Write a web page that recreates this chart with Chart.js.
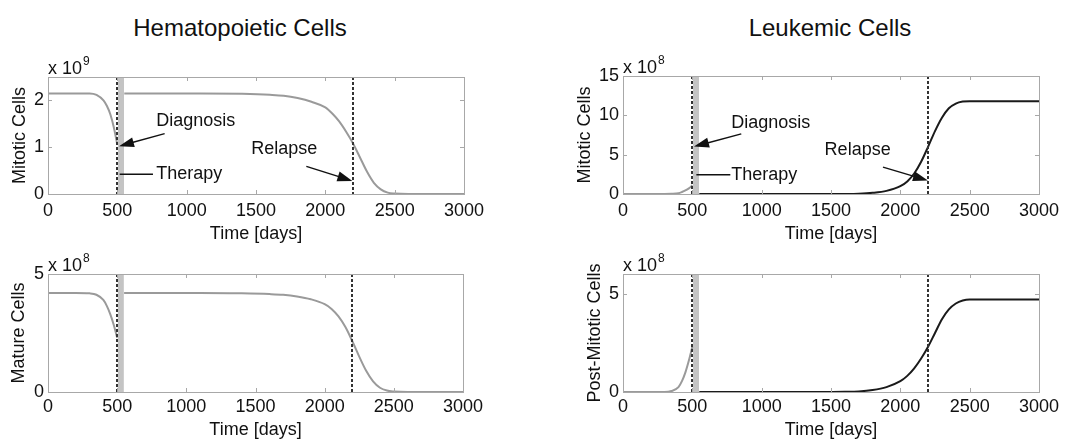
<!DOCTYPE html>
<html>
<head>
<meta charset="utf-8">
<script src="https://cdn.jsdelivr.net/npm/chart.js@4.4.0/dist/chart.umd.min.js"></script>
<style>
body { margin: 0; background: #fff; width: 1083px; height: 444px; position: relative; overflow: hidden; font-family: "Liberation Sans", Arial, Helvetica, sans-serif; }
.title { position: absolute; font-size: 24px; line-height: 24px; color: #111; white-space: nowrap; transform: translateX(-50%); }
canvas { position: absolute; }
</style>
</head>
<body>
<div class="title" style="left:240px; top:16px">Hematopoietic Cells</div>
<div class="title" style="left:830px; top:16px">Leukemic Cells</div>
<canvas id="hemMitotic" width="540" height="200" style="left:0; top:50px"></canvas>
<canvas id="leukMitotic" width="540" height="200" style="left:540px; top:50px"></canvas>
<canvas id="hemMature" width="540" height="194" style="left:0; top:250px"></canvas>
<canvas id="leukPost" width="540" height="194" style="left:540px; top:250px"></canvas>
<script>
// time points (days): before diagnosis, and after therapy
const daysBefore = [0, 100, 200, 300, 350, 400, 425, 450, 475, 500];
const daysAfter = [550, 800, 1100, 1400, 1600, 1700, 1800, 1900, 2000, 2050, 2100, 2150, 2200, 2250, 2300, 2350, 2400, 2450, 2500, 2600, 2800, 3000];
const xTicks = [0, 500, 1000, 1500, 2000, 2500, 3000];

// hematopoietic mitotic cells, x 10^9
const hemMitoticBefore = [2.15, 2.15, 2.15, 2.15, 2.12, 2.0, 1.88, 1.7, 1.42, 1.05];
const hemMitoticAfter = [2.15, 2.15, 2.15, 2.14, 2.12, 2.1, 2.05, 1.97, 1.85, 1.72, 1.55, 1.33, 1.08, 0.78, 0.48, 0.24, 0.1, 0.03, 0.01, 0, 0, 0];
// leukemic mitotic cells, x 10^8
const leukMitoticBefore = [0, 0, 0, 0, 0.02, 0.1, 0.25, 0.45, 0.72, 1.1];
const leukMitoticAfter = [0, 0, 0, 0, 0.01, 0.04, 0.15, 0.4, 1.0, 1.6, 2.6, 4.1, 6.0, 8.0, 9.7, 10.9, 11.5, 11.75, 11.8, 11.8, 11.8, 11.8];
// hematopoietic mature cells, x 10^8
const hemMatureBefore = [4.2, 4.2, 4.2, 4.18, 4.12, 3.9, 3.65, 3.3, 2.85, 2.3];
const hemMatureAfter = [4.2, 4.2, 4.2, 4.18, 4.15, 4.12, 4.05, 3.93, 3.72, 3.52, 3.2, 2.75, 2.15, 1.5, 0.9, 0.45, 0.18, 0.06, 0.02, 0, 0, 0];
// leukemic post-mitotic cells, x 10^8
const leukPostBefore = [0, 0, 0, 0, 0.05, 0.25, 0.55, 1.0, 1.6, 2.3];
const leukPostAfter = [0, 0, 0, 0, 0.01, 0.03, 0.1, 0.25, 0.55, 0.82, 1.2, 1.7, 2.3, 3.0, 3.7, 4.2, 4.5, 4.65, 4.7, 4.7, 4.7, 4.7];

const yTicksHemMitotic = [0, 1, 2];
const yTicksLeukMitotic = [0, 5, 10, 15];
const yTicksHemMature = [0, 5];
const yTicksLeukPost = [0, 5];

const diagnosisDay = 500;
const relapseDay = 2200;
const therapyDays = [505, 548];

const FONT = '"Liberation Sans", Arial, Helvetica, sans-serif';
const GRAY = '#9a9a9a';
const DARK = '#1a1a1a';

function pts(days, vals) {
    return days.map((d, i) => ({ x: d, y: vals[i] }));
}

function arrow(ctx, x1, y1, x2, y2) {
    const a = Math.atan2(y2 - y1, x2 - x1);
    const c = Math.cos(a), s = Math.sin(a);
    ctx.beginPath();
    ctx.moveTo(x1, y1);
    ctx.lineTo(x2 - 10 * c, y2 - 10 * s);
    ctx.stroke();
    ctx.beginPath();
    ctx.moveTo(x2, y2);
    ctx.lineTo(x2 - 15 * c + 5 * s, y2 - 15 * s - 5 * c);
    ctx.lineTo(x2 - 15 * c - 5 * s, y2 - 15 * s + 5 * c);
    ctx.closePath();
    ctx.fill();
}

// matlab-like frame, inner ticks, event lines, exponent and notes
const matlabAxes = {
    id: 'matlabAxes',
    beforeDatasetsDraw(chart) {
        const { ctx, chartArea: a, scales: { x } } = chart;
        const x1 = x.getPixelForValue(therapyDays[0]);
        const x2 = x.getPixelForValue(therapyDays[1]);
        ctx.save();
        ctx.fillStyle = '#c4c4c4';
        ctx.fillRect(x1, a.top, x2 - x1, a.bottom - a.top);
        ctx.restore();
    },
    afterDatasetsDraw(chart, args, opts) {
        const { ctx, chartArea: a, scales: { x, y } } = chart;
        ctx.save();

        // dashed event lines
        ctx.strokeStyle = '#333';
        ctx.lineWidth = 2;
        ctx.setLineDash([3, 2]);
        [diagnosisDay, relapseDay].forEach(d => {
            const px = Math.round(x.getPixelForValue(d));
            ctx.beginPath();
            ctx.moveTo(px, a.top);
            ctx.lineTo(px, a.bottom);
            ctx.stroke();
        });
        ctx.setLineDash([]);

        // frame
        ctx.strokeStyle = '#a8a8a8';
        ctx.lineWidth = 1;
        ctx.strokeRect(Math.round(a.left) + 0.5, Math.round(a.top) + 0.5, Math.round(a.right - a.left), Math.round(a.bottom - a.top));

        // inner ticks
        ctx.beginPath();
        x.ticks.forEach(t => {
            const px = Math.round(x.getPixelForValue(t.value)) + 0.5;
            ctx.moveTo(px, a.bottom); ctx.lineTo(px, a.bottom - 4);
            ctx.moveTo(px, a.top); ctx.lineTo(px, a.top + 4);
        });
        y.ticks.forEach(t => {
            const py = Math.round(y.getPixelForValue(t.value)) + 0.5;
            ctx.moveTo(a.left, py); ctx.lineTo(a.left + 4, py);
            ctx.moveTo(a.right, py); ctx.lineTo(a.right - 4, py);
        });
        ctx.stroke();

        // exponent label
        ctx.fillStyle = '#111';
        ctx.textAlign = 'left';
        ctx.textBaseline = 'alphabetic';
        ctx.font = '18px ' + FONT;
        const base = 'x 10';
        ctx.fillText(base, a.left, a.top - 3);
        const w = ctx.measureText(base).width;
        ctx.font = '12px ' + FONT;
        ctx.fillText(opts.expo, a.left + w + 1, a.top - 12);

        // annotations
        ctx.font = '18px ' + FONT;
        ctx.textBaseline = 'middle';
        ctx.strokeStyle = '#111';
        ctx.lineWidth = 1.5;
        (opts.notes || []).forEach(n => {
            const fx = x.getPixelForValue(n.from[0]), fy = y.getPixelForValue(n.from[1]);
            const tx = x.getPixelForValue(n.to[0]), ty = y.getPixelForValue(n.to[1]);
            if (n.arrow) {
                arrow(ctx, fx, fy, tx, ty);
            } else {
                ctx.beginPath();
                ctx.moveTo(fx, fy);
                ctx.lineTo(tx, ty);
                ctx.stroke();
            }
            ctx.fillText(n.text, x.getPixelForValue(n.at[0]), y.getPixelForValue(n.at[1]));
        });
        ctx.restore();
    }
};

function makeChart(id, cfg) {
    const font = { family: FONT, size: 18 };
    return new Chart(document.getElementById(id), {
        type: 'line',
        data: {
            datasets: [
                { data: pts(daysBefore, cfg.before), borderColor: GRAY, borderWidth: 2 },
                { data: pts(daysAfter, cfg.after), borderColor: cfg.afterColor, borderWidth: 2 }
            ]
        },
        options: {
            responsive: false,
            animation: false,
            layout: { padding: cfg.padding },
            elements: {
                point: { radius: 0 },
                line: { cubicInterpolationMode: 'monotone', fill: false }
            },
            plugins: {
                legend: { display: false },
                tooltip: { enabled: false },
                matlabAxes: { expo: cfg.expo, notes: cfg.notes }
            },
            scales: {
                x: {
                    type: 'linear',
                    min: 0,
                    max: 3000,
                    afterBuildTicks: s => { s.ticks = xTicks.map(v => ({ value: v })); },
                    afterFit: s => { s.height = cfg.xHeight; },
                    grid: { display: false, drawTicks: false },
                    border: { display: false },
                    ticks: { font: font, color: '#111', padding: cfg.xTickPad, maxRotation: 0, callback: v => String(v) },
                    title: { display: true, text: 'Time [days]', font: font, color: '#111', padding: { top: 0, bottom: cfg.xTitlePad } }
                },
                y: {
                    type: 'linear',
                    min: 0,
                    max: cfg.yMax,
                    afterBuildTicks: s => { s.ticks = cfg.yTicks.map(v => ({ value: v })); },
                    afterFit: s => { s.width = cfg.yWidth; },
                    grid: { display: false, drawTicks: false },
                    border: { display: false },
                    ticks: { font: font, color: '#111', padding: 4, callback: v => String(v) },
                    title: { display: true, text: cfg.yTitle, font: font, color: '#111', padding: { top: cfg.yTitlePad, bottom: 0 } }
                }
            }
        },
        plugins: [matlabAxes]
    });
}

makeChart('hemMitotic', {
    before: hemMitoticBefore, after: hemMitoticAfter, afterColor: GRAY,
    yMax: 2.5, yTicks: yTicksHemMitotic, yTitle: 'Mitotic Cells', expo: '9',
    padding: { left: 0, top: 27, right: 76, bottom: 0 },
    yWidth: 48, yTitlePad: 9, xHeight: 56, xTickPad: 6, xTitlePad: 5,
    notes: [
        { text: 'Diagnosis', arrow: true, from: [841, 1.29], to: [512, 1.02], at: [781, 1.55] },
        { text: 'Therapy', arrow: false, from: [517, 0.42], to: [757, 0.42], at: [781, 0.42] },
        { text: 'Relapse', arrow: true, from: [1863, 0.59], to: [2195, 0.28], at: [1466, 0.97] }
    ]
});

makeChart('leukMitotic', {
    before: leukMitoticBefore, after: leukMitoticAfter, afterColor: DARK,
    yMax: 15, yTicks: yTicksLeukMitotic, yTitle: 'Mitotic Cells', expo: '8',
    padding: { left: 0, top: 26, right: 41, bottom: 0 },
    yWidth: 83, yTitlePad: 34, xHeight: 56, xTickPad: 6, xTitlePad: 5,
    notes: [
        { text: 'Diagnosis', arrow: true, from: [853, 7.64], to: [512, 6.03], at: [781, 9.06] },
        { text: 'Therapy', arrow: false, from: [529, 2.45], to: [774, 2.45], at: [781, 2.45] },
        { text: 'Relapse', arrow: true, from: [1875, 3.42], to: [2199, 1.72], at: [1454, 5.6] }
    ]
});

makeChart('hemMature', {
    before: hemMatureBefore, after: hemMatureAfter, afterColor: GRAY,
    yMax: 5, yTicks: yTicksHemMature, yTitle: 'Mature Cells', expo: '8',
    padding: { left: 0, top: 24, right: 77, bottom: 0 },
    yWidth: 48, yTitlePad: 8, xHeight: 52, xTickPad: 4, xTitlePad: 3,
    notes: []
});

makeChart('leukPost', {
    before: leukPostBefore, after: leukPostAfter, afterColor: DARK,
    yMax: 6, yTicks: yTicksLeukPost, yTitle: 'Post-Mitotic Cells', expo: '8',
    padding: { left: 0, top: 24, right: 41, bottom: 0 },
    yWidth: 83, yTitlePad: 44, xHeight: 52, xTickPad: 4, xTitlePad: 3,
    notes: []
});
</script>
</body>
</html>
